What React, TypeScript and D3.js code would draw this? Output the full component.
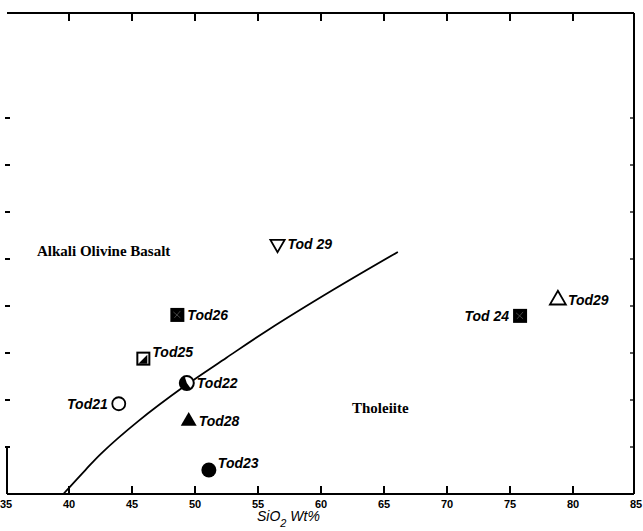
import React from "react";
import * as d3 from "d3";

// samples
const sampleIds = ["Tod21", "Tod22", "Tod23", "Tod25", "Tod26", "Tod28", "Tod 29", "Tod 24", "Tod29"];
const sio2 = [43.95, 49.35, 51.1, 45.9, 48.6, 49.5, 56.55, 75.8, 78.8];
const alkalis = [1.92, 2.36, 0.51, 2.88, 3.81, 1.55, 5.32, 3.79, 4.13];
const symbols = ["openCircle", "halfCircle", "filledCircle", "markedSquare", "filledSquare", "filledTriangle", "openDownTriangle", "filledSquare", "openTriangle"];
const labelSide = ["left", "right", "above", "above", "right", "right", "right", "left", "right"];

// dividing line alkali / tholeiite
const lineSiO2 = [39.55, 41.3, 42.55, 45.5, 49.1, 52.5, 55.8, 61.0, 66.1];
const lineAlk = [0, 0.51, 0.86, 1.55, 2.28, 2.9, 3.49, 4.35, 5.15];

const xTicks = [35, 40, 45, 50, 55, 60, 65, 70, 75, 80, 85];
const yTicks = [1, 2, 3, 4, 5, 6, 7, 8];

const ink = "#000";
const left = 7, right = 634, topY = 13, botY = 494;
const x = d3.scaleLinear().domain([35, 85]).range([6, 636]);
const y = d3.scaleLinear().domain([0, 10]).range([botY, botY - 470]);

const Marker = ({ kind }: { kind: string }) => {
  if (kind === "openCircle")
    return <circle r={6.5} fill="#fff" stroke={ink} strokeWidth={1.8} />;
  if (kind === "halfCircle") {
    const half = d3.arc()({ innerRadius: 0, outerRadius: 7, startAngle: Math.PI * 0.8, endAngle: Math.PI * 1.9 } as any) || "";
    return (
      <g>
        <circle r={7} fill="#fff" stroke={ink} strokeWidth={2} />
        <path d={half} fill={ink} />
      </g>
    );
  }
  if (kind === "filledCircle") return <circle r={7.5} fill={ink} />;
  if (kind === "markedSquare")
    return (
      <g>
        <rect x={-6} y={-6} width={12} height={12} fill="#fff" stroke={ink} strokeWidth={2} />
        <path d="M-5,5L4,-4L4,5Z" fill={ink} />
      </g>
    );
  if (kind === "filledSquare")
    return (
      <g>
        <rect x={-7} y={-7} width={14} height={14} fill={ink} />
        <path d="M-4,-3L3,3M-3,3L3,-4" stroke="#555" strokeWidth={0.8} />
      </g>
    );
  if (kind === "filledTriangle")
    return <path d={d3.symbol(d3.symbolTriangle, 110)() || ""} fill={ink} />;
  if (kind === "openDownTriangle")
    return <path d={d3.symbol(d3.symbolTriangle, 90)() || ""} transform="rotate(180)" fill="#fff" stroke={ink} strokeWidth={1.7} />;
  return <path d={d3.symbol(d3.symbolTriangle, 110)() || ""} fill="#fff" stroke={ink} strokeWidth={1.8} />;
};

const App = () => {
  const inner = xTicks.filter((d) => d > 35 && d < 85);
  const curve = d3.line<number>()
    .x((d, i) => x(lineSiO2[i]))
    .y((d, i) => y(lineAlk[i]))
    .curve(d3.curveCatmullRom)(lineSiO2) || "";

  return (
    <div style={{ position: "absolute", left: 0, top: 0 }}>
      <svg width={643} height={531}>
        {/* frame */}
        <rect x={left} y={topY - 1} width={right - left} height={2} fill={ink} />
        <rect x={right - 1} y={topY} width={2} height={botY - topY} fill={ink} />
        <rect x={left} y={botY - 1} width={right - left} height={2} fill={ink} />
        <rect x={left - 1} y={y(1)} width={2} height={botY - y(1)} fill={ink} />

        {inner.map((d) => (
          <g key={"t" + d}>
            <rect x={x(d) - 1} y={botY - 8} width={2} height={8} fill={ink} />
            <rect x={x(d) - 1} y={topY} width={2} height={8} fill={ink} />
          </g>
        ))}

        {xTicks.map((d) => (
          <text key={"l" + d} x={x(d)} y={508} textAnchor="middle"
            fontFamily="'Liberation Sans Narrow', 'Liberation Sans', sans-serif"
            fontWeight="bold" fontSize={11} fill={ink}>{d}</text>
        ))}
        {yTicks.map((d) => (
          <g key={"y" + d}>
            <line x1={5} x2={10} y1={y(d)} y2={y(d)} stroke={ink} strokeWidth={2} />
            <line x1={right - 4} x2={right} y1={y(d)} y2={y(d)} stroke={ink} strokeWidth={1.3} />
          </g>
        ))}

        {/* axis title */}
        <text x={257} y={521} fontFamily="'Liberation Sans', sans-serif" fontStyle="italic" fontSize={14} fill={ink}>
          <tspan>SiO</tspan>
          <tspan dy={6} fontSize={11}>2</tspan>
          <tspan dy={-6}> Wt%</tspan>
        </text>

        {/* dividing curve */}
        <path d={curve} fill="none" stroke={ink} strokeWidth={1.8} />

        {/* region labels */}
        <text x={37} y={256} fontFamily="'Liberation Serif', serif" fontWeight="bold" fontSize={15} fill={ink}>
          Alkali Olivine Basalt
        </text>
        <text x={352} y={413} fontFamily="'Liberation Serif', serif" fontWeight="bold" fontSize={15} fill={ink}>
          Tholeiite
        </text>

        {sampleIds.map((id, i) => {
          const px = x(sio2[i]);
          const py = y(alkalis[i]);
          const side = labelSide[i];
          const tx = side === "left" ? px - 11 : side === "above" ? px + 9 : px + 10;
          const ty = side === "above" ? py - 2 : py + 5;
          return (
            <g key={id}>
              <g transform={`translate(${px},${py})`}>
                <Marker kind={symbols[i]} />
              </g>
              <text x={tx} y={ty} textAnchor={side === "left" ? "end" : "start"}
                fontFamily="'Liberation Sans', sans-serif" fontStyle="italic" fontWeight="bold"
                fontSize={14} fill={ink}>{id}</text>
            </g>
          );
        })}
      </svg>
    </div>
  );
};

export default App;
